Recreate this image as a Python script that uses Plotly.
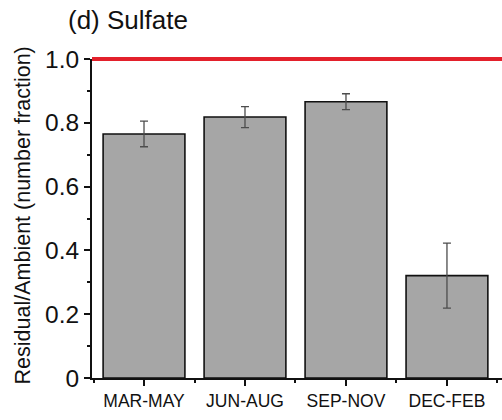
import plotly.graph_objects as go

# Seasonal residual/ambient number fraction of sulfate particles
seasons = ["MAR-MAY", "JUN-AUG", "SEP-NOV", "DEC-FEB"]
fraction = [0.765, 0.818, 0.866, 0.321]
fraction_err = [0.040, 0.033, 0.025, 0.102]

y_ticks = [0, 0.2, 0.4, 0.6, 0.8, 1.0]
y_ticktext = ["0", "0.2", "0.4", "0.6", "0.8", "1.0"]

positions = list(range(len(seasons)))

fig = go.Figure()
fig.add_trace(go.Bar(
    x=positions,
    y=fraction,
    width=0.81,
    marker=dict(color="#a6a6a6", line=dict(color="#111111", width=1.6)),
    error_y=dict(type="data", array=fraction_err, visible=True,
                 color="#4d4d4d", thickness=1.3, width=4),
    showlegend=False,
))

# Reference line at unity (top of the y range, so drawn in paper units to avoid clipping)
fig.add_shape(type="line", xref="paper", yref="paper", x0=0, x1=1, y0=1.0, y1=1.0,
              line=dict(color="#e3202b", width=4), layer="above")

fig.add_annotation(
    text="Residual/Ambient (number fraction)",
    xref="paper", yref="paper", x=-0.168, y=0.51,
    textangle=-90, showarrow=False, xanchor="center", yanchor="middle",
    font=dict(family="Liberation Sans, Arial, sans-serif", size=21.5, color="#111111"),
)

fig.update_layout(
    width=502, height=420,
    margin=dict(l=92, r=0, t=59, b=42),
    paper_bgcolor="white", plot_bgcolor="white",
    bargap=0.19,
    title=dict(text="(d) Sulfate", x=68 / 502, xref="container", xanchor="left",
               y=1 - 20 / 420, yref="container", yanchor="middle",
               font=dict(family="Liberation Sans, Arial, sans-serif", size=26, color="#111111")),
    font=dict(family="Liberation Sans, Arial, sans-serif", color="#111111"),
)

fig.update_xaxes(
    range=[-0.515, 3.545],
    tickmode="array", tickvals=positions, ticktext=seasons,
    tickfont=dict(size=17.5, color="#111111"),
    ticks="outside", ticklen=6, tickwidth=2, tickcolor="#111111",
    minor=dict(tickmode="array", tickvals=[p + 0.5 for p in positions] + [-0.5],
               ticks="outside", ticklen=3, tickwidth=2, tickcolor="#111111"),
    showline=True, linecolor="#111111", linewidth=2,
    showgrid=False, zeroline=False,
)

fig.update_yaxes(
    range=[0, 1.0],
    tickmode="array", tickvals=y_ticks, ticktext=y_ticktext,
    tickfont=dict(size=24.5, color="#111111"),
    ticks="outside", ticklen=6, tickwidth=2, tickcolor="#111111",
    minor=dict(tickmode="array", tickvals=[0.1, 0.3, 0.5, 0.7, 0.9],
               ticks="outside", ticklen=3, tickwidth=2, tickcolor="#111111"),
    showline=True, linecolor="#111111", linewidth=2,
    showgrid=False, zeroline=False,
)

fig.write_html("out.html")
